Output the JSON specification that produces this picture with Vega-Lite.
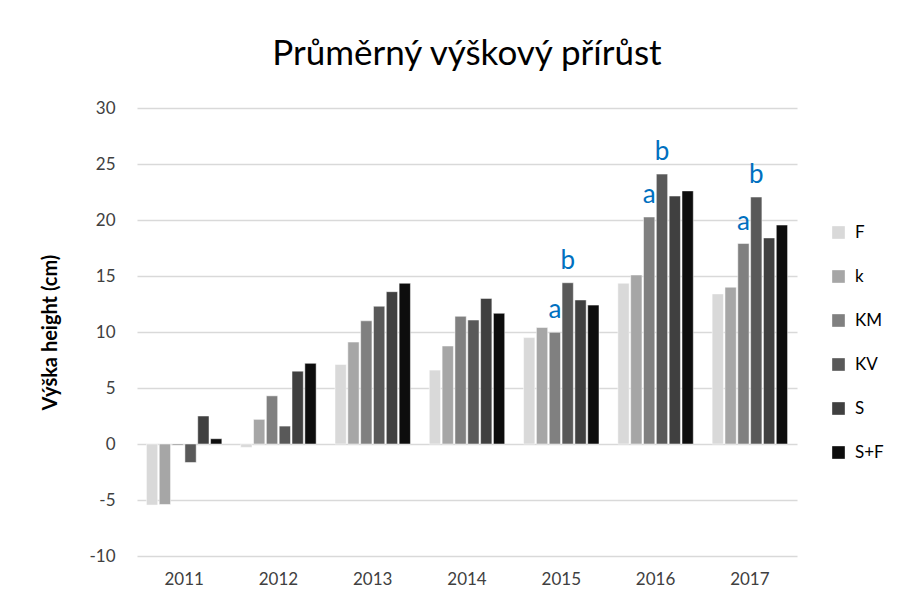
{
  "$schema": "https://vega.github.io/schema/vega-lite/v6.json",
  "autosize": "none",
  "width": 660,
  "height": 448,
  "padding": {"left": 137, "top": 108, "right": 104, "bottom": 51},
  "background": "white",
  "title": {
    "text": "Průměrný výškový přírůst",
    "font": "Lato",
    "fontSize": 35,
    "fontWeight": "normal",
    "color": "#000000",
    "anchor": "middle",
    "offset": 27
  },
  "data": {
    "values": [
      {"year": "2011", "series": "F", "value": -5.45},
      {"year": "2011", "series": "k", "value": -5.4},
      {"year": "2011", "series": "KM", "value": -0.1},
      {"year": "2011", "series": "KV", "value": -1.65},
      {"year": "2011", "series": "S", "value": 2.5},
      {"year": "2011", "series": "S+F", "value": 0.47},
      {"year": "2012", "series": "F", "value": -0.3},
      {"year": "2012", "series": "k", "value": 2.2},
      {"year": "2012", "series": "KM", "value": 4.3},
      {"year": "2012", "series": "KV", "value": 1.6},
      {"year": "2012", "series": "S", "value": 6.5},
      {"year": "2012", "series": "S+F", "value": 7.2},
      {"year": "2013", "series": "F", "value": 7.1},
      {"year": "2013", "series": "k", "value": 9.1},
      {"year": "2013", "series": "KM", "value": 11.0},
      {"year": "2013", "series": "KV", "value": 12.3},
      {"year": "2013", "series": "S", "value": 13.6},
      {"year": "2013", "series": "S+F", "value": 14.35},
      {"year": "2014", "series": "F", "value": 6.6},
      {"year": "2014", "series": "k", "value": 8.75},
      {"year": "2014", "series": "KM", "value": 11.4},
      {"year": "2014", "series": "KV", "value": 11.07},
      {"year": "2014", "series": "S", "value": 13.0},
      {"year": "2014", "series": "S+F", "value": 11.67},
      {"year": "2015", "series": "F", "value": 9.5},
      {"year": "2015", "series": "k", "value": 10.4},
      {"year": "2015", "series": "KM", "value": 9.97, "sig": "a"},
      {"year": "2015", "series": "KV", "value": 14.4, "sig": "b"},
      {"year": "2015", "series": "S", "value": 12.86},
      {"year": "2015", "series": "S+F", "value": 12.4},
      {"year": "2016", "series": "F", "value": 14.35},
      {"year": "2016", "series": "k", "value": 15.09},
      {"year": "2016", "series": "KM", "value": 20.27, "sig": "a"},
      {"year": "2016", "series": "KV", "value": 24.1, "sig": "b"},
      {"year": "2016", "series": "S", "value": 22.14},
      {"year": "2016", "series": "S+F", "value": 22.6},
      {"year": "2017", "series": "F", "value": 13.4},
      {"year": "2017", "series": "k", "value": 14.0},
      {"year": "2017", "series": "KM", "value": 17.9, "sig": "a"},
      {"year": "2017", "series": "KV", "value": 22.05, "sig": "b"},
      {"year": "2017", "series": "S", "value": 18.4},
      {"year": "2017", "series": "S+F", "value": 19.55}
    ]
  },
  "encoding": {
    "x": {
      "field": "year",
      "type": "nominal",
      "scale": {"paddingInner": 0.2, "paddingOuter": 0.1},
      "axis": {
        "title": null,
        "labelAngle": 0,
        "labelFont": "Lato",
        "labelFontSize": 17,
        "labelColor": "#404040",
        "labelPadding": 15,
        "ticks": false,
        "domain": false,
        "grid": false
      }
    },
    "xOffset": {
      "field": "series",
      "type": "nominal",
      "sort": ["F", "k", "KM", "KV", "S", "S+F"],
      "scale": {"paddingInner": 0.12}
    },
    "y": {
      "field": "value",
      "type": "quantitative",
      "scale": {"domain": [-10, 30], "nice": false},
      "axis": {
        "title": "Výška height (cm)",
        "titleFont": "Lato",
        "titleFontSize": 20,
        "titleFontWeight": "bold",
        "titleColor": "#000000",
        "titlePadding": 28,
        "values": [-10, -5, 0, 5, 10, 15, 20, 25, 30],
        "labelExpr": "'' + datum.value",
        "labelFont": "Lato",
        "labelFontSize": 17,
        "labelColor": "#404040",
        "labelPadding": 22,
        "ticks": false,
        "domain": false,
        "grid": true,
        "gridColor": "#d9d9d9",
        "gridWidth": 1.5
      }
    }
  },
  "layer": [
    {
      "mark": {"type": "bar", "stroke": "white", "strokeWidth": 0.5},
      "encoding": {
        "color": {
          "field": "series",
          "type": "nominal",
          "sort": ["F", "k", "KM", "KV", "S", "S+F"],
          "scale": {
            "domain": ["F", "k", "KM", "KV", "S", "S+F"],
            "range": ["#d9d9d9", "#a6a6a6", "#808080", "#595959", "#404040", "#0d0d0d"]
          },
          "legend": {
            "title": null,
            "orient": "none",
            "legendX": 693,
            "legendY": 116,
            "symbolType": "square",
            "symbolSize": 160,
            "symbolStrokeWidth": 0,
            "labelFont": "Lato",
            "labelFontSize": 17,
            "labelColor": "#000000",
            "labelOffset": 8,
            "rowPadding": 26
          }
        }
      }
    },
    {
      "transform": [{"filter": "datum.sig != null"}],
      "mark": {
        "type": "text",
        "baseline": "bottom",
        "dy": -9,
        "font": "Lato",
        "fontSize": 26,
        "color": "#0070C0"
      },
      "encoding": {
        "text": {"field": "sig", "type": "nominal"}
      }
    }
  ],
  "config": {
    "view": {"stroke": null}
  }
}
